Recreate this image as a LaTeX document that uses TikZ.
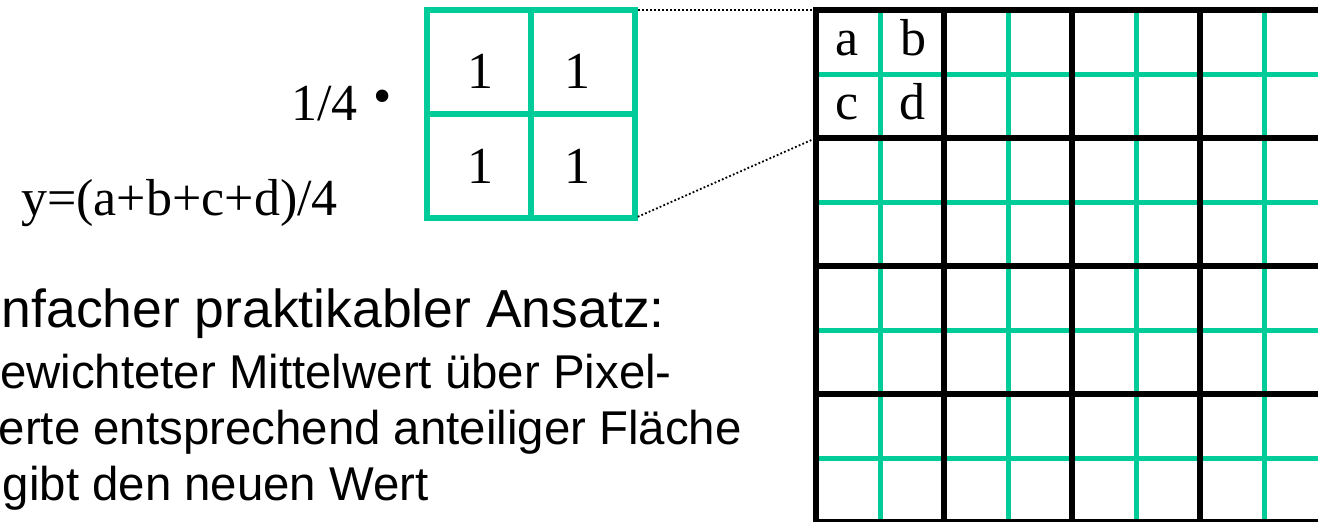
\documentclass[tikz,border=0pt]{standalone}
\usepackage{fontspec}
\setmainfont{Liberation Serif}
\newfontfamily\arialfont{Liberation Sans}
\definecolor{kgreen}{RGB}{0,204,153}
\begin{document}
\begin{tikzpicture}[x=1pt,y=-1pt,
  greenline/.style={draw=kgreen, line width=5pt},
  blackline/.style={draw=black, line width=6pt},
  kernelline/.style={draw=kgreen, line width=6pt, line join=miter},
  dotline/.style={draw=black, line width=1.8pt, dash pattern=on 1.8pt off 2.2pt, shorten <=3pt, shorten >=3pt},
  seriftext/.style={inner sep=0pt, font=\fontsize{52}{60}\selectfont},
  sanstext/.style={inner sep=0pt, font=\arialfont\fontsize{47.4}{56}\selectfont, anchor=base east},
  sansbig/.style={inner sep=0pt, font=\arialfont\fontsize{53.5}{60}\selectfont, anchor=base east}]
\useasboundingbox (0,0) rectangle (1318,522);
\fill[white] (0,0) rectangle (1318,522);

% kernel
\draw[kernelline] (427,10) rectangle (635,218);
\draw[kernelline] (531,10) -- (531,218);
\draw[kernelline] (427,114) -- (635,114);
\coordinate (kNE) at (635,10);
\coordinate (kSE) at (635,218);
\node[seriftext, anchor=base] (k11) at (480,88) {1};
\node[seriftext, anchor=base] (k12) at (577,88) {1};
\node[seriftext, anchor=base] (k21) at (480,183) {1};
\node[seriftext, anchor=base] (k22) at (577,183) {1};

% factor and formula
\node[seriftext, anchor=base west] (quarter) at (291,120) {1/4};
\node[seriftext, anchor=center] (dot) at (383,102) {•};
\node[seriftext, anchor=base east] (formula) at (338,215) {y=(a+b+c+d)/4};

% big grid
\begin{scope}
\clip (0,0) rectangle (1318,522);
\foreach \x in {880,1008,1136,1264} \draw[greenline] (\x,10) -- (\x,522);
\foreach \y in {74,202,330,458} \draw[greenline] (816,\y) -- (1318,\y);
\foreach \x in {816,944,1072,1200} \draw[blackline] (\x,7) -- (\x,525);
\foreach \y in {10,138,266,394,522} \draw[blackline] (813,\y) -- (1318,\y);
\end{scope}
\coordinate (gNW) at (816,10);
\coordinate (gW) at (816,138);
\node[seriftext, anchor=base] (ca) at (847,55) {a};
\node[seriftext, anchor=base] (cb) at (913,55) {b};
\node[seriftext, anchor=base] (cc) at (847,119) {c};
\node[seriftext, anchor=base] (cd) at (912,119) {d};

% dotted connectors
\draw[dotline] (kNE) -- (gNW);
\draw[dotline] (kSE) -- (gW);

% text
\node[sansbig] (t1) at (665,327) {nfacher praktikabler Ansatz:};
\node[sanstext] (t2) at (672,388) {ewichteter Mittelwert über Pixel-};
\node[sanstext] (t3) at (742,444) {erte entsprechend anteiliger Fläche};
\node[sanstext] (t4) at (429,500) {gibt den neuen Wert};
\end{tikzpicture}
\end{document}
